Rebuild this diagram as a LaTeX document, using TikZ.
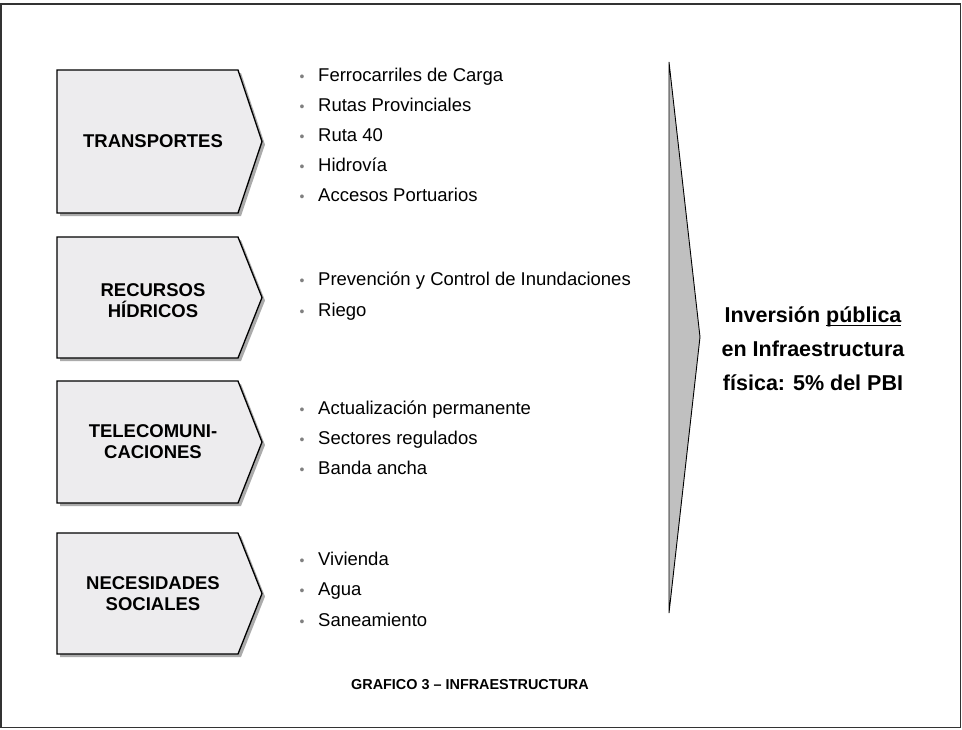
\documentclass[tikz,border=0pt]{standalone}
\usepackage{fontspec}
\setmainfont{Liberation Sans}
\newcommand\thickul[1]{\setbox0\hbox{#1}\rlap{\rule[-3.5pt]{\wd0}{1.6pt}}\box0}
\definecolor{boxfill}{HTML}{EDECEE}
\definecolor{shadowc}{HTML}{ABABAB}
\definecolor{arrowfill}{HTML}{C0C0C0}
\definecolor{bulletc}{HTML}{808080}
\definecolor{framec}{HTML}{333333}
\tikzset{
  chev/.style={fill=boxfill, draw=black, line width=1.3pt, line join=miter},
  chevshadow/.style={fill=shadowc},
  boxlabel/.style={font=\bfseries\fontsize{18.5}{21}\selectfont, align=center, inner sep=0pt},
  itemtext/.style={font=\fontsize{18.5}{22}\selectfont, anchor=base west, inner sep=0pt},
  bulletdot/.style={font=\fontsize{14}{16}\selectfont, text=bulletc, anchor=base, inner sep=0pt},
  bigarrow/.style={fill=arrowfill, draw=black, line width=0.9pt, line join=miter},
  result/.style={font=\bfseries\fontsize{21.5}{34}\selectfont, align=center, inner sep=0pt},
  caption/.style={font=\bfseries\fontsize{14.4}{17}\selectfont, inner sep=0pt}
}
\begin{document}
\begin{tikzpicture}[x=1pt,y=-1pt]
\useasboundingbox (0,0) rectangle (962,729);
\draw[draw=framec, line width=1.6pt] (1,4) rectangle (960.5,727.5);
% chevrons
\foreach \t/\b/\lbl/\n/\dy in {70/213/{TRANSPORTES}/tr/0, 237/358/{RECURSOS\\HÍDRICOS}/rh/3, 381/503/{TELECOMUNI-\\CACIONES}/tc/0, 533/654/{NECESIDADES\\SOCIALES}/ns/0}{
  \pgfmathsetmacro{\m}{(\t+\b)/2}
  \fill[chevshadow] (60,\t+3) -- (241,\t+3) -- (265,\m+3) -- (241,\b+3) -- (60,\b+3) -- cycle;
  \draw[chev] (57,\t) -- (238,\t) -- (262,\m) -- (238,\b) -- (57,\b) -- cycle;
  \node[boxlabel] (\n) at (153,\m+\dy) {\lbl};
}
% items
\foreach \y/\txt/\n in {75/{Ferrocarriles de Carga}/i1, 105/{Rutas Provinciales}/i2, 135/{Ruta 40}/i3, 165/{Hidrovía}/i4, 195/{Accesos Portuarios}/i5,
  279/{Prevención y Control de Inundaciones}/i6, 310/{Riego}/i7,
  408/{Actualización permanente}/i8, 438/{Sectores regulados}/i9, 468/{Banda ancha}/i10,
  559/{Vivienda}/i11, 589/{Agua}/i12, 620/{Saneamiento}/i13}{
  \node[bulletdot] (b\n) at (302,\y+6) {•};
  \node[itemtext] (\n) at (318,\y+6.6) {\txt};
}
% big arrow
\draw[bigarrow] (669,62) -- (700,337) -- (669,613) -- cycle;
\node[result] (res) at (813,349) {Inversión \thickul{pública}\\en Infraestructura\\física: 5\% del PBI};
\node[caption] (cap) at (470,685) {GRAFICO 3 – INFRAESTRUCTURA};
\end{tikzpicture}
\end{document}
